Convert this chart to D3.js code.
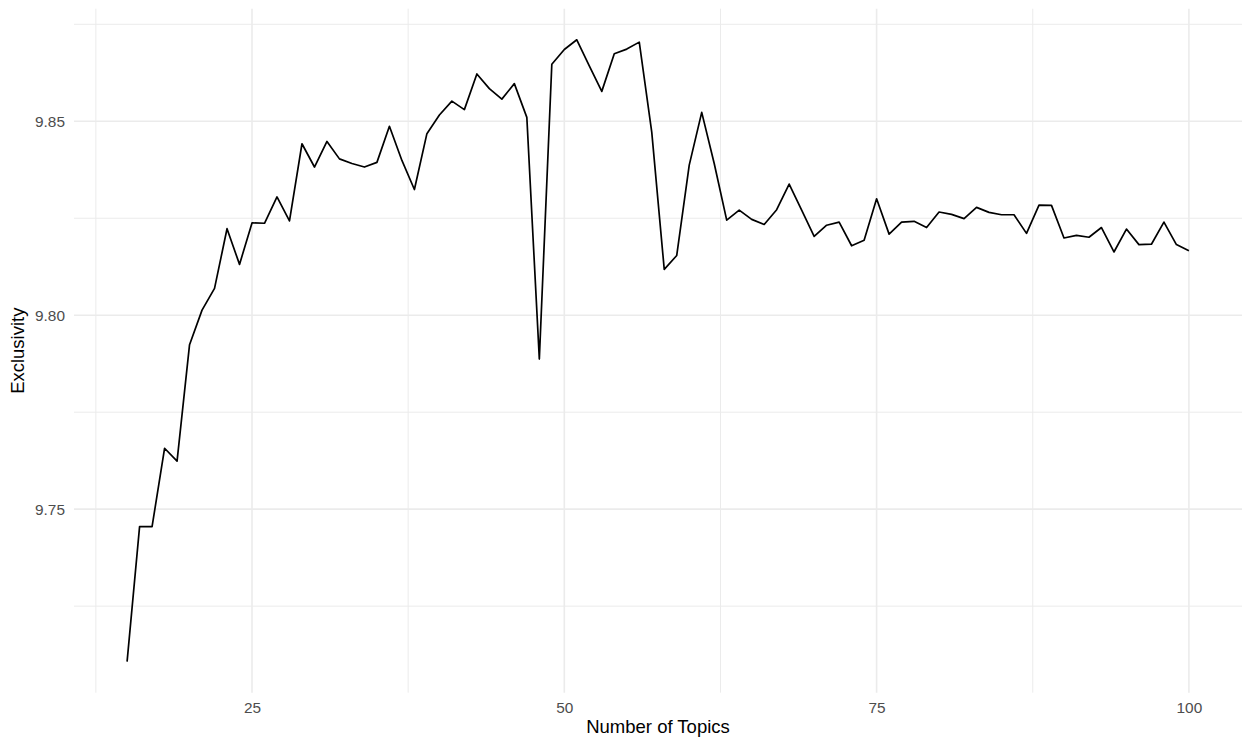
<!DOCTYPE html>
<html><head><meta charset="utf-8">
<script src="https://cdn.jsdelivr.net/npm/d3@7"></script>
<style>body{margin:0;background:#fff}svg{display:block}text{font-family:"Liberation Sans",Arial,sans-serif}</style>
</head><body>
<svg id="chart" width="1242" height="744"></svg>
<script>
const topics = d3.range(15, 101);
const exclusivity = [
 9.7107, 9.7455, 9.7455, 9.7657, 9.7624, 9.7924, 9.8013, 9.8069, 9.8223, 9.8131,
 9.8238, 9.8237, 9.8305, 9.8243, 9.8442, 9.8382, 9.8448, 9.8403, 9.8391, 9.8382,
 9.8394, 9.8487, 9.8399, 9.8324, 9.8468, 9.8516, 9.8552, 9.8530, 9.8622, 9.8584,
 9.8557, 9.8597, 9.8510, 9.7887, 9.8647, 9.8685, 9.8710, 9.8643, 9.8577, 9.8674,
 9.8686, 9.8704, 9.8472, 9.8118, 9.8154, 9.8387, 9.8523, 9.8391, 9.8245, 9.8271,
 9.8247, 9.8234, 9.8272, 9.8338, 9.8271, 9.8203, 9.8232, 9.8240, 9.8179, 9.8193,
 9.8300, 9.8209, 9.8240, 9.8242, 9.8226, 9.8266, 9.8260, 9.8249, 9.8278, 9.8265,
 9.8259, 9.8259, 9.8211, 9.8284, 9.8283, 9.8199, 9.8206, 9.8201, 9.8226, 9.8163,
 9.8222, 9.8182, 9.8183, 9.8240, 9.8182, 9.8166
];
const xTicks = [25, 50, 75, 100];
const xMinor = [12.5, 37.5, 62.5, 87.5];
const yTicks = [9.75, 9.80, 9.85];
const yMinor = [9.725, 9.775, 9.825, 9.875];
const xTitle = "Number of Topics";
const yTitle = "Exclusivity";

const data = topics.map((t, i) => ({t, v: exclusivity[i]}));
const svg = d3.select("#chart");
const panel = {left: 74, right: 1242, top: 8.7, bottom: 692.7};

const xExt = d3.extent(topics), xPad = (xExt[1]-xExt[0])*0.05;
const yExt = d3.extent(exclusivity), yPad = (yExt[1]-yExt[0])*0.05;
const x = d3.scaleLinear().domain([xExt[0]-xPad, xExt[1]+xPad]).range([panel.left, panel.right]);
const y = d3.scaleLinear().domain([yExt[0]-yPad, yExt[1]+yPad]).range([panel.bottom, panel.top]);

const g = svg.append("g");
g.selectAll("line.xmin").data(xMinor).join("line")
  .attr("x1", d=>x(d)).attr("x2", d=>x(d)).attr("y1", panel.top).attr("y2", panel.bottom)
  .attr("stroke", "#EBEBEB").attr("stroke-width", 1);
g.selectAll("line.ymin").data(yMinor).join("line")
  .attr("y1", d=>y(d)).attr("y2", d=>y(d)).attr("x1", panel.left).attr("x2", panel.right)
  .attr("stroke", "#EBEBEB").attr("stroke-width", 1);
g.selectAll("line.xmaj").data(xTicks).join("line")
  .attr("x1", d=>x(d)).attr("x2", d=>x(d)).attr("y1", panel.top).attr("y2", panel.bottom)
  .attr("stroke", "#EBEBEB").attr("stroke-width", 1.6);
g.selectAll("line.ymaj").data(yTicks).join("line")
  .attr("y1", d=>y(d)).attr("y2", d=>y(d)).attr("x1", panel.left).attr("x2", panel.right)
  .attr("stroke", "#EBEBEB").attr("stroke-width", 1.6);

const font = '"Liberation Sans", Arial, sans-serif';
const xAxis = d3.axisBottom(x).tickValues(xTicks).tickSize(0).tickPadding(9).tickFormat(d3.format("d"));
const gx = svg.append("g").attr("transform", `translate(0,${panel.bottom})`).call(xAxis);
gx.select(".domain").remove();
gx.selectAll("text").attr("fill", "#4D4D4D").style("font-size", "15.4px").style("font-family", font);

const yAxis = d3.axisLeft(y).tickValues(yTicks).tickSize(0).tickPadding(9).tickFormat(d3.format(".2f"));
const gy = svg.append("g").attr("transform", `translate(${panel.left},0)`).call(yAxis);
gy.select(".domain").remove();
gy.selectAll("text").attr("fill", "#4D4D4D").style("font-size", "15.4px").style("font-family", font);

svg.append("path").datum(data)
  .attr("fill", "none").attr("stroke", "#000").attr("stroke-width", 1.7).attr("stroke-linejoin", "round")
  .attr("d", d3.line().x(d=>x(d.t)).y(d=>y(d.v)));

svg.append("text").attr("x", (panel.left+panel.right)/2).attr("y", 733)
  .attr("text-anchor", "middle").style("font-size", "18.5px").attr("fill", "#000").text(xTitle);
svg.append("text").attr("transform", `translate(23.5,${(panel.top+panel.bottom)/2}) rotate(-90)`)
  .attr("text-anchor", "middle").style("font-size", "18.5px").attr("fill", "#000").text(yTitle);
</script>
</body></html>
